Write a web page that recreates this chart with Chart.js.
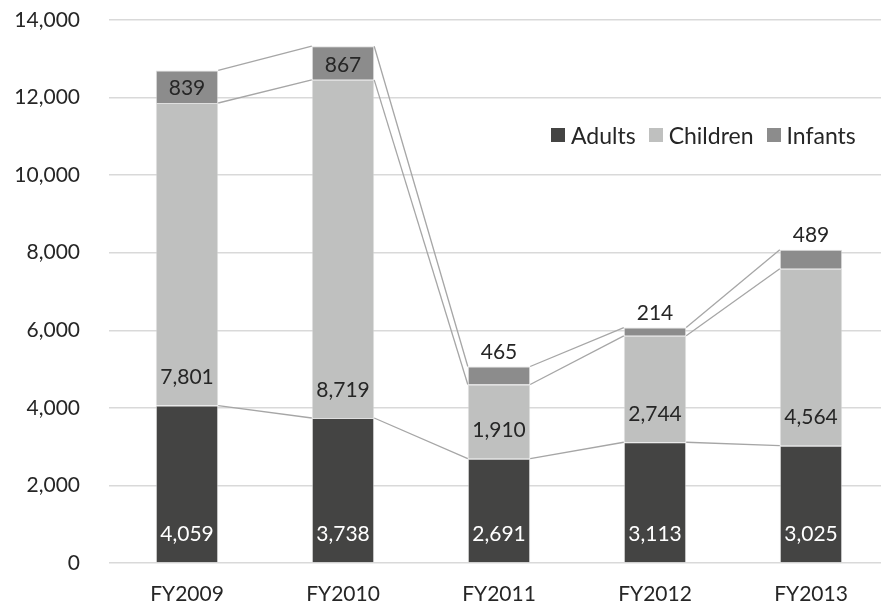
<!DOCTYPE html>
<html>
<head>
<meta charset="utf-8">
<script src="https://cdn.jsdelivr.net/npm/chart.js@4.4.0/dist/chart.umd.min.js"></script>
<style>
    html, body { margin: 0; padding: 0; background: #fff; overflow: hidden; }
    #wrap { position: relative; width: 889px; height: 605px; }
    #legend {
        position: absolute; left: 551px; top: 121px;
        display: flex; align-items: center;
        font-family: Lato, sans-serif; font-size: 23px; color: #262626;
    }
    #legend .item { display: flex; align-items: center; margin-right: 13px; }
    #legend .box { width: 14px; height: 14px; margin-right: 6px; }
</style>
</head>
<body>
<div id="wrap">
    <canvas id="chart" width="889" height="605"></canvas>
    <div id="legend"></div>
</div>
<script>
// Data
const categories = ['FY2009', 'FY2010', 'FY2011', 'FY2012', 'FY2013'];
const adults = [4059, 3738, 2691, 3113, 3025];
const children = [7801, 8719, 1910, 2744, 4564];
const infants = [839, 867, 465, 214, 489];
const yTicks = [0, 2000, 4000, 6000, 8000, 10000, 12000, 14000];

const FONT = 'Lato, sans-serif';
const seriesColors = ['#444443', '#bfc0bf', '#8c8c8c'];
const labelColors = ['#ffffff', '#262626', '#262626'];

function fmt(v) {
    return v.toLocaleString('en-US');
}

// Excel-like series lines joining the top of each segment between bars
const seriesLines = {
    id: 'seriesLines',
    beforeDatasetsDraw(chart) {
        const ctx = chart.ctx;
        ctx.save();
        ctx.strokeStyle = '#a6a6a6';
        ctx.lineWidth = 1.3;
        chart.data.datasets.forEach((ds, d) => {
            const meta = chart.getDatasetMeta(d);
            for (let i = 0; i < meta.data.length - 1; i++) {
                const a = meta.data[i];
                const b = meta.data[i + 1];
                ctx.beginPath();
                ctx.moveTo(a.x + a.width / 2, a.y);
                ctx.lineTo(b.x - b.width / 2, b.y);
                ctx.stroke();
            }
        });
        ctx.restore();
    }
};

// Value labels: inside base for adults/children, infants centered or above bar
const valueLabels = {
    id: 'valueLabels',
    afterDatasetsDraw(chart) {
        const ctx = chart.ctx;
        ctx.save();
        ctx.font = '21px ' + FONT;
        ctx.textAlign = 'center';
        ctx.textBaseline = 'middle';
        chart.data.datasets.forEach((ds, d) => {
            const meta = chart.getDatasetMeta(d);
            meta.data.forEach((bar, i) => {
                let y;
                if (d < 2) {
                    y = bar.base - 28;
                } else if (bar.base - bar.y > 28) {
                    y = (bar.base + bar.y) / 2 + 2;
                } else {
                    y = bar.y - 14;
                }
                ctx.fillStyle = labelColors[d];
                ctx.fillText(fmt(ds.data[i]), bar.x, y);
            });
        });
        ctx.restore();
    }
};

const ctx = document.getElementById('chart').getContext('2d');

const chart = new Chart(ctx, {
    type: 'bar',
    data: {
        labels: categories,
        datasets: [
            { label: 'Adults', data: adults, backgroundColor: seriesColors[0] },
            { label: 'Children', data: children, backgroundColor: seriesColors[1] },
            { label: 'Infants', data: infants, backgroundColor: seriesColors[2] }
        ].map(ds => Object.assign(ds, {
            borderColor: 'rgba(210,210,210,0.7)',
            borderWidth: 1,
            barPercentage: 0.4,
            categoryPercentage: 1
        }))
    },
    options: {
        responsive: false,
        animation: false,
        layout: { padding: { top: 20, right: 0, left: 0, bottom: 0 } },
        plugins: {
            legend: { display: false },
            tooltip: { enabled: false }
        },
        scales: {
            x: {
                stacked: true,
                grid: { display: false, drawTicks: false },
                border: { display: false },
                ticks: {
                    color: '#262626',
                    font: { family: FONT, size: 21 },
                    padding: 19
                },
                afterFit(scale) { scale.height = 42; }
            },
            y: {
                stacked: true,
                min: 0,
                max: 14000,
                afterBuildTicks(scale) {
                    scale.ticks = yTicks.map(v => ({ value: v }));
                },
                grid: { color: '#d9d9d9', lineWidth: 1.5, drawTicks: false },
                border: { display: false },
                ticks: {
                    color: '#262626',
                    font: { family: FONT, size: 21 },
                    padding: 29,
                    callback: v => fmt(v)
                },
                afterFit(scale) {
                    scale.width = 109;
                    scale.paddingTop = 0;
                    scale.paddingBottom = 0;
                }
            }
        }
    },
    plugins: [seriesLines, valueLabels]
});

// Legend built from the datasets
const legendEl = document.getElementById('legend');
chart.data.datasets.forEach(ds => {
    const item = document.createElement('div');
    item.className = 'item';
    const box = document.createElement('span');
    box.className = 'box';
    box.style.background = ds.backgroundColor;
    const txt = document.createElement('span');
    txt.textContent = ds.label;
    item.appendChild(box);
    item.appendChild(txt);
    legendEl.appendChild(item);
});
</script>
</body>
</html>
